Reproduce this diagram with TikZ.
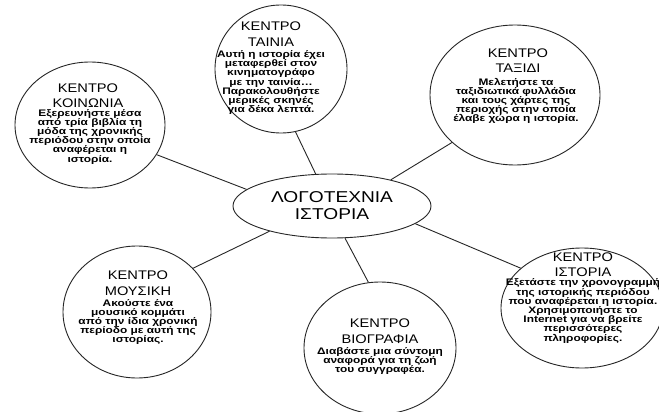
\documentclass[tikz,border=0pt]{standalone}
\usepackage{fontspec}
\setmainfont{Liberation Sans}
\newfontfamily\ttlfont[FakeStretch=1.17]{Liberation Sans}
\newfontfamily\cenfont[FakeStretch=1.22]{Liberation Sans}
\newfontfamily\bdyfont[FakeStretch=1.25]{Liberation Sans}
\usetikzlibrary{shapes.geometric}
\tikzset{
  oval/.style={ellipse, draw=black!85, line width=0.9pt, inner sep=0pt},
  link/.style={draw=black!85, line width=0.9pt},
  ttl/.style={inner sep=0pt, font={\ttlfont\fontsize{12.5}{14}\selectfont}},
  bdy/.style={inner sep=0pt, align=center, font={\bdyfont\bfseries\fontsize{9.5}{9.2}\selectfont}},
  cen/.style={inner sep=0pt, align=center, font={\cenfont\fontsize{15.7}{17}\selectfont}}
}
\begin{document}
\begin{tikzpicture}[x=1pt,y=1pt]
\useasboundingbox[fill=white] (0,0) rectangle (659,-412);
% ellipses
\node[oval, minimum width=150pt, minimum height=126pt] (koin) at (90,-125) {};
\node[oval, minimum width=132pt, minimum height=128pt] (tain) at (281,-69) {};
\node[oval, minimum width=170pt, minimum height=140pt] (taxi) at (515,-95) {};
\node[oval, minimum width=198pt, minimum height=64pt] (cent) at (332,-206) {};
\node[oval, minimum width=148pt, minimum height=132pt] (mous) at (137,-312) {};
\node[oval, minimum width=152pt, minimum height=132pt] (biog) at (380,-348) {};
\node[oval, minimum width=162pt, minimum height=120pt] (isto) at (582,-308) {};
% connectors
\draw[link] (cent.169) -- (koin.336);
\draw[link] (cent.117) -- (tain.283);
\draw[link] (cent.24) -- (taxi.217);
\draw[link] (cent.202) -- (mous.38);
\draw[link] (cent.292) -- (biog.100);
\draw[link] (cent.348) -- (isto.147);
% central text
\node[cen] (cent-t) at (332,-206) {ΛΟΓΟΤΕΧΝΙΑ\\ΙΣΤΟΡΙΑ};
% ΚΟΙΝΩΝΙΑ
\node[ttl] (koin-k) at (88,-88) {ΚΕΝΤΡΟ};
\node[ttl] (koin-n) at (88,-103) {ΚΟΙΝΩΝΙΑ};
\node[bdy] (koin-b) at (90,-136.5) {Εξερευνήστε μέσα\\από τρία βιβλία τη\\μόδα της χρονικής\\περιόδου στην οποία\\αναφέρεται η\\ιστορία.};
% ΤΑΙΝΙΑ
\node[ttl] (tain-k) at (271,-26) {ΚΕΝΤΡΟ};
\node[ttl] (tain-n) at (271,-42) {ΤΑΙΝΙΑ};
\node[bdy] (tain-b) at (271,-82.5) {Αυτή η ιστορία έχει\\μεταφερθεί στον\\κινηματογράφο\\με την ταινία…\\Παρακολουθήστε\\μερικές σκηνές\\για δέκα λεπτά.};
% ΤΑΞΙΔΙ
\node[ttl] (taxi-k) at (518,-53) {ΚΕΝΤΡΟ};
\node[ttl] (taxi-n) at (518,-68) {ΤΑΞΙΔΙ};
\node[bdy] (taxi-b) at (516,-101) {Μελετήστε τα\\ταξιδιωτικά φυλλάδια\\και τους χάρτες της\\περιοχής στην οποία\\έλαβε χώρα η ιστορία.};
% ΜΟΥΣΙΚΗ
\node[ttl] (mous-k) at (138,-275) {ΚΕΝΤΡΟ};
\node[ttl] (mous-n) at (138,-291) {ΜΟΥΣΙΚΗ};
\node[bdy] (mous-b) at (138,-322) {Ακούστε ένα\\μουσικό κομμάτι\\από την ίδια χρονική\\περίοδο με αυτή της\\ιστορίας.};
% ΒΙΟΓΡΑΦΙΑ
\node[ttl] (biog-k) at (380,-323) {ΚΕΝΤΡΟ};
\node[ttl] (biog-n) at (380,-339) {ΒΙΟΓΡΑΦΙΑ};
\node[bdy] (biog-b) at (380,-361) {Διαβάστε μια σύντομη\\αναφορά για τη ζωή\\του συγγραφέα.};
% ΙΣΤΟΡΙΑ
\node[ttl] (isto-k) at (583,-257) {ΚΕΝΤΡΟ};
\node[ttl] (isto-n) at (583,-272) {ΙΣΤΟΡΙΑ};
\node[bdy] (isto-b) at (583,-311) {Εξετάστε την χρονογραμμή\\της ιστορικής περιόδου\\που αναφέρεται η ιστορία.\\Χρησιμοποιήστε το\\Internet για να βρείτε\\περισσότερες\\πληροφορίες.};
\end{tikzpicture}
\end{document}
